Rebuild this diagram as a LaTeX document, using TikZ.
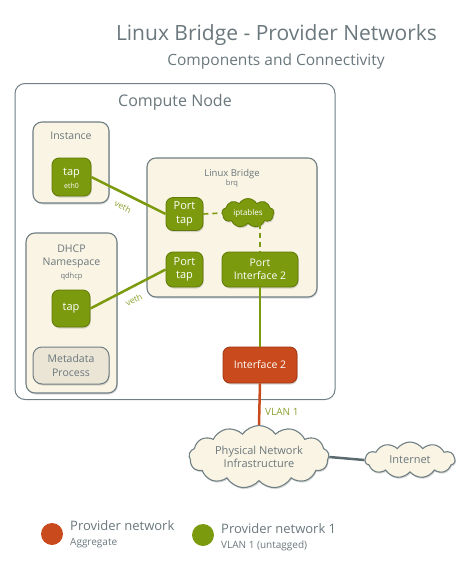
\documentclass[tikz,border=0pt]{standalone}
\usepackage{fontspec}
\setmainfont{Open Sans}
\usetikzlibrary{shapes.symbols,shadows}
\definecolor{cream}{HTML}{FAF4E4}
\definecolor{bordergray}{HTML}{6F7F84}
\definecolor{grn}{HTML}{7C9A0E}
\definecolor{grndark}{HTML}{5F7A06}
\definecolor{org}{HTML}{C94A1C}
\definecolor{orgdark}{HTML}{9E3510}
\definecolor{txtgray}{HTML}{6A777C}
\definecolor{metafill}{HTML}{EBE5D6}
\definecolor{lnkgray}{HTML}{5A6B70}
\definecolor{vethgreen}{HTML}{8AA12E}
\tikzset{
  shad/.style={drop shadow={opacity=0.3,shadow xshift=0.8pt,shadow yshift=-1.5pt}},
  outerbox/.style={draw=bordergray,line width=1pt,fill=white,rounded corners=10pt},
  container/.style={draw=bordergray,line width=1.1pt,fill=cream,rounded corners=9pt,shad},
  gnode/.style={draw=grndark,line width=0.8pt,fill=grn,rounded corners=7pt,text=white,align=center,
    font=\fontsize{11}{13.5}\selectfont,inner sep=0pt,shad},
  onode/.style={draw=orgdark,line width=0.8pt,fill=org,rounded corners=7pt,text=white,align=center,
    font=\fontsize{10.5}{13}\selectfont,inner sep=0pt,shad},
  mnode/.style={draw=bordergray,line width=1pt,fill=metafill,rounded corners=9pt,text=txtgray,align=center,
    font=\fontsize{10.5}{13.5}\selectfont,inner sep=0pt,shad},
  ctitle/.style={text=txtgray,font=\fontsize{10}{12}\selectfont,inner sep=0pt},
  csub/.style={text=txtgray,font=\fontsize{7.5}{9}\selectfont,inner sep=0pt},
  gline/.style={draw=grn,line width=2.5pt},
  dline/.style={draw=grn,line width=1.6pt,dash pattern=on 5pt off 4pt},
  vethlbl/.style={text=vethgreen,font=\fontsize{8.5}{10}\selectfont,inner sep=0pt},
  cloudbox/.style={cloud,cloud ignores aspect,cloud puffs=13,cloud puff arc=110,draw=bordergray,line width=1.1pt,fill=cream,
    text=txtgray,align=center,font=\fontsize{11}{13}\selectfont,inner sep=0pt,shad},
  legtitle/.style={anchor=west,text=txtgray,font=\fontsize{13}{15}\selectfont,inner sep=0pt},
  legsub/.style={anchor=west,text=txtgray,font=\fontsize{10}{12}\selectfont,inner sep=0pt},
}
\begin{document}
\begin{tikzpicture}[x=1pt,y=-1pt]
\useasboundingbox (0,0) rectangle (474,571);
% titles
\node[text=txtgray,font=\fontsize{21}{25}\selectfont,inner sep=0pt] (title) at (276.5,35) {Linux Bridge - Provider Networks};
\node[text=txtgray,font=\fontsize{15.5}{18}\selectfont,inner sep=0pt] (subtitle) at (276,61) {Components and Connectivity};
% compute node
\node[outerbox,minimum width=320pt,minimum height=316pt] (cn) at (175,241.5) {};
\node[text=txtgray,font=\fontsize{16}{19}\selectfont,inner sep=0pt] (cnl) at (175,102) {Compute Node};
% instance
\node[container,minimum width=76pt,minimum height=81pt] (inst) at (71,162.5) {};
\node[ctitle,font=\fontsize{10.5}{12}\selectfont] (instl) at (71,136) {Instance};
\node[gnode,minimum width=39pt,minimum height=38pt] (eth) at (71.5,177) {};
\node[text=white,font=\fontsize{11}{12}\selectfont,inner sep=0pt] (ethl1) at (71.5,173) {tap};
\node[text=white,font=\fontsize{7}{8}\selectfont,inner sep=0pt] (ethl2) at (71.5,185.5) {eth0};
% DHCP
\node[container,minimum width=91pt,minimum height=160pt] (dhcp) at (71.5,313) {};
\node[ctitle,font=\fontsize{10.5}{12}\selectfont] (dhcpl1) at (71.5,249) {DHCP};
\node[ctitle,font=\fontsize{10.5}{12}\selectfont] (dhcpl2) at (71.5,263) {Namespace};
\node[csub] (dhcpl3) at (71.5,277) {qdhcp};
\node[gnode,minimum width=38pt,minimum height=37pt] (dtap) at (71,308.5) {tap};
\node[mnode,minimum width=76pt,minimum height=37pt] (meta) at (71,365.5) {Metadata\\Process};
% linux bridge
\node[container,minimum width=170pt,minimum height=139pt] (lb) at (232,227.5) {};
\node[ctitle,font=\fontsize{9.5}{11}\selectfont] (lbl1) at (232,174) {Linux Bridge};
\node[csub] (lbl2) at (232,184) {brq};
\node[gnode,minimum width=37pt,minimum height=33pt] (pt1) at (184.5,214) {Port\\tap};
\node[gnode,minimum width=37pt,minimum height=35pt] (pt2) at (184.5,269.5) {Port\\tap};
\node[gnode,font=\fontsize{10.5}{13.5}\selectfont,minimum width=76pt,minimum height=35pt] (pif) at (260,269.5) {Port\\Interface 2};
\node[cloud,cloud ignores aspect,cloud puffs=9,cloud puff arc=120,draw=grndark,line width=0.8pt,fill=grn,text=white,
  font=\fontsize{8}{10}\selectfont,inner sep=0pt,minimum width=52pt,minimum height=29pt,shad] (ipt) at (248,213) {iptables};
% interface 2
\node[onode,minimum width=74pt,minimum height=36pt] (if2) at (260,365) {Interface 2};
% clouds
\node[cloudbox,minimum width=140pt,minimum height=63pt] (phys) at (259,457) {Physical Network\\Infrastructure};
\node[cloudbox,cloud puffs=11,minimum width=90pt,minimum height=36pt] (inet) at (410,460) {Internet};
% connectors
\draw[gline] (eth.east) -- node[vethlbl,midway,below=8pt,sloped] {veth} (pt1.west);
\draw[gline] (dtap.east) -- node[vethlbl,midway,below=8pt,sloped] {veth} (pt2.west);
\draw[dline] (pt1.east) -- (ipt.west);
\draw[dline] (ipt.south -| pif.north) -- (pif.north);
\draw[gline] (pif.south) -- (if2.north);
\draw[draw=org,line width=2.5pt] (if2.south) -- (phys.north);
\draw[draw=lnkgray,line width=2.5pt] (phys.east) -- (inet.west);
\node[text=vethgreen,font=\fontsize{10}{12}\selectfont,inner sep=0pt,anchor=west] (vlan) at (265,412) {VLAN 1};
% legend
\node[circle,fill=org,minimum size=22pt,inner sep=0pt] (lc1) at (52,534) {};
\node[legtitle] (lt1) at (70,526) {Provider network};
\node[legsub] (ls1) at (70,543) {Aggregate};
\node[circle,fill=grn,minimum size=22pt,inner sep=0pt] (lc2) at (203,535) {};
\node[legtitle] (lt2) at (221,529) {Provider network 1};
\node[legsub] (ls2) at (221,546) {VLAN 1 (untagged)};
\end{tikzpicture}
\end{document}
